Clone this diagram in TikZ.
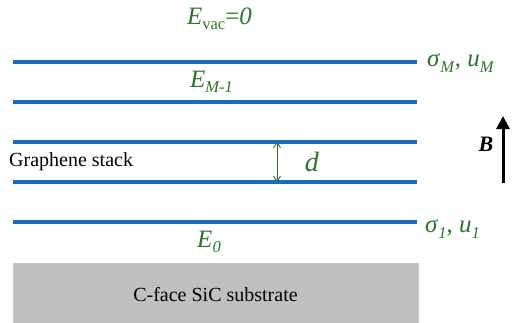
\documentclass[tikz,border=0pt]{standalone}
\usepackage{fontspec}
\setmainfont{Liberation Serif}
\newfontfamily\tnr{Liberation Serif}
\usetikzlibrary{arrows.meta}
\definecolor{layerblue}{RGB}{20,110,195}
\definecolor{labgreen}{RGB}{45,115,45}
\definecolor{subgray}{RGB}{192,192,192}
\newcommand{\mysb}[1]{\raisebox{-0.45ex}{\fontsize{16.5}{16.5}\selectfont #1}}
\tikzset{
  layer/.style={draw=layerblue, line width=3.2pt},
  glab/.style={text=labgreen, inner sep=0pt, font=\tnr\fontsize{25}{25}\selectfont},
  blab/.style={text=black, inner sep=0pt, font=\tnr\fontsize{20}{20}\selectfont},
}
\begin{document}
\begin{tikzpicture}[x=1pt,y=-1pt]
\useasboundingbox (0,0) rectangle (513,322);
% layers
\foreach \n/\yy in {5/62,4/102,3/142,2/182,1/222}{
  \coordinate (l\n a) at (13,\yy);
  \coordinate (l\n b) at (417,\yy);
  \draw[layer] (l\n a) -- (l\n b);
}
% substrate
\node[fill=subgray, draw=subgray!90!white, minimum width=405pt, minimum height=60pt, inner sep=0pt, anchor=north west] (sub) at (13,263) {};
\node[blab] (subt) at (215.5,295) {C-face SiC substrate};
% labels
\node[glab] (evac) at (219.5,19) {\textit{E}\mysb{vac}=\textit{0}};
\node[glab] (em) at (211.5,82) {\textit{E}\mysb{\textit{M-1}}};
\node[glab] (e0) at (209,242) {\textit{E}\mysb{\textit{0}}};
\node[glab, anchor=west] (sm) at (427,63) {\textit{σ}\mysb{\textit{M}}, \textit{u}\mysb{\textit{M}}};
\node[glab, anchor=west] (s1) at (425,229) {\textit{σ}\mysb{\textit{1}}, \textit{u}\mysb{\textit{1}}};
\node[blab, anchor=west] (gs) at (9,162) {Graphene stack};
% d arrow
\coordinate (dt) at (277,142);
\coordinate (db) at (277,182);
\draw[labgreen, line width=0.9pt, {Straight Barb[length=5pt,width=7pt]}-{Straight Barb[length=5pt,width=7pt]}] (dt) -- (db);
\node[glab, font=\tnr\fontsize{28}{28}\selectfont] (d) at (312,162) {\textit{d}};
% B field
\coordinate (bb) at (503,183);
\coordinate (bt) at (503,116);
\draw[black, line width=3pt, -{Triangle[length=13pt,width=13pt]}] (bb) -- (bt);
\node[blab, font=\tnr\fontsize{22}{22}\selectfont] (B) at (486,144) {\textbf{\textit{B}}};
\end{tikzpicture}
\end{document}
